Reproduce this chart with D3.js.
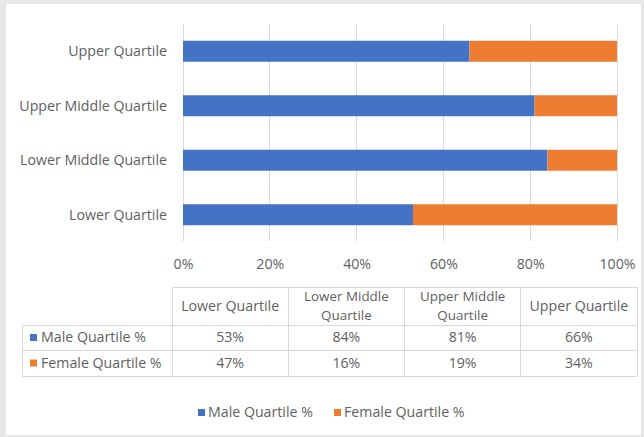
<!DOCTYPE html>
<html><head><meta charset="utf-8">
<script src="https://cdn.jsdelivr.net/npm/d3@7/dist/d3.min.js"></script>
<style>html,body{margin:0;padding:0;background:#e7e7e7;}svg{display:block;}</style>
</head><body>
<script>
const categories = ["Lower Quartile","Lower Middle Quartile","Upper Middle Quartile","Upper Quartile"];
const seriesNames = ["Male Quartile %","Female Quartile %"];
const male = [53,84,81,66];
const female = [47,16,19,34];
const xTicks = [0,0.2,0.4,0.6,0.8,1];
const headerLines = [["Lower Quartile"],["Lower Middle","Quartile"],["Upper Middle","Quartile"],["Upper Quartile"]];
const colors = ["#4472C4","#ED7D31"];

const W=644,H=437;
const font = "'Open Sans', sans-serif";
const fs = 14.2;
const txt = "#5f5f5f";
const svg = d3.select("body").append("svg").attr("width",W).attr("height",H);
svg.append("rect").attr("x",0).attr("y",0).attr("width",W).attr("height",H).attr("fill","#e7e7e7");
svg.append("rect").attr("x",6).attr("y",4).attr("width",635).attr("height",431).attr("fill","#fff");

const x = d3.scaleLinear().domain([0,1]).range([183,617]);
const y = d3.scaleBand().domain(categories.slice().reverse()).range([24,242]).paddingInner(0.615).paddingOuter(0.3075);

// gridlines
svg.append("g").selectAll("line").data(xTicks).join("line")
  .attr("x1",d=>x(d)).attr("x2",d=>x(d)).attr("y1",24).attr("y2",241)
  .attr("stroke","#d9d9d9").attr("stroke-width",1).attr("shape-rendering","crispEdges");

// stacked bars
const rows = categories.map((c,i)=>({cat:c, Male:male[i]/100, Female:female[i]/100}));
const stack = d3.stack().keys(["Male","Female"])(rows);
svg.append("g").selectAll("g").data(stack).join("g").attr("fill",(d,i)=>colors[i])
  .selectAll("rect").data(d=>d).join("rect")
  .attr("x",d=>x(d[0])).attr("width",d=>x(d[1])-x(d[0]))
  .attr("y",d=>y(d.data.cat)).attr("height",y.bandwidth());

// y labels
svg.append("g").selectAll("text").data(categories).join("text")
  .attr("x",167).attr("y",d=>y(d)+y.bandwidth()/2).attr("dy","0.35em")
  .attr("text-anchor","end").attr("font-family",font).attr("font-size",fs).attr("fill",txt).text(d=>d);

// x axis labels
const xAxis = d3.axisBottom(x).tickValues(xTicks).tickFormat(d3.format(".0%")).tickSize(0).tickPadding(0);
const gx = svg.append("g").attr("transform","translate(0,259)").call(xAxis);
gx.select(".domain").remove();
gx.selectAll("text").attr("font-family",font).attr("font-size",fs).attr("fill",txt).attr("dy","0.7em").attr("y",0);

// data table
const colX = d3.scaleBand().domain(categories).range([172,637]);
const tb = svg.append("g").attr("stroke","#d9d9d9").attr("fill","none").attr("shape-rendering","crispEdges");
const rTop=287, rHead=325, r1=350, r2=376, left=22;
tb.append("line").attr("x1",172).attr("x2",637).attr("y1",rTop).attr("y2",rTop);
[rHead,r1,r2].forEach(yy=>tb.append("line").attr("x1",left).attr("x2",637).attr("y1",yy).attr("y2",yy));
tb.append("line").attr("x1",left).attr("x2",left).attr("y1",rHead).attr("y2",r2);
categories.forEach(c=>tb.append("line").attr("x1",colX(c)).attr("x2",colX(c)).attr("y1",rTop).attr("y2",r2));
tb.append("line").attr("x1",637).attr("x2",637).attr("y1",rTop).attr("y2",r2);

const th = svg.append("g").attr("font-family",font).attr("font-size",fs).attr("fill",txt).attr("text-anchor","middle");
const hfs = 13.4, lineGap = 18.5;
categories.forEach((c,i)=>{
  const lines = headerLines[i];
  const cy = (rTop+rHead)/2;
  const cx = colX(c)+colX.bandwidth()/2;
  lines.forEach((l,j)=>{
    th.append("text").attr("x",cx).attr("font-size", lines.length>1 ? hfs : fs)
      .attr("y",cy + (j-(lines.length-1)/2)*lineGap).attr("dy","0.35em").text(l);
  });
});
const seriesVals=[male,female];
const rowCY=[(rHead+r1)/2,(r1+r2)/2];
seriesNames.forEach((s,k)=>{
  svg.append("rect").attr("x",30).attr("y",rowCY[k]-3.5).attr("width",7).attr("height",7).attr("fill",colors[k]);
  svg.append("text").attr("x",41).attr("y",rowCY[k]).attr("dy","0.35em").attr("font-family",font).attr("font-size",fs).attr("fill",txt).text(s);
  categories.forEach((c,i)=>{
    th.append("text").attr("x",colX(c)+colX.bandwidth()/2).attr("y",rowCY[k]).attr("dy","0.35em").text(seriesVals[k][i]+"%");
  });
});

// legend
const lg = svg.append("g").attr("font-family",font).attr("font-size",fs).attr("fill",txt);
const legX=[198,334];
seriesNames.forEach((s,k)=>{
  lg.append("rect").attr("x",legX[k]).attr("y",409).attr("width",7).attr("height",7).attr("fill",colors[k]);
  lg.append("text").attr("x",legX[k]+10).attr("y",412.5).attr("dy","0.35em").text(s);
});
</script>
</body></html>
